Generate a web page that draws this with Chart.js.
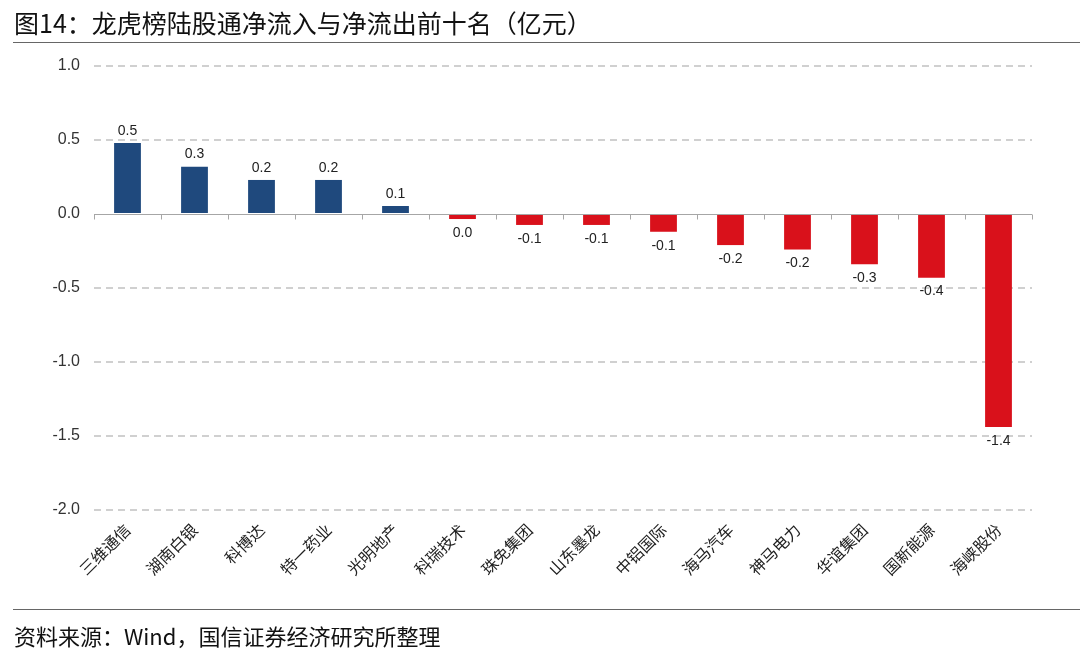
<!DOCTYPE html>
<html>
<head>
<meta charset="utf-8">
<script src="https://cdn.jsdelivr.net/npm/chart.js@4.4.0/dist/chart.umd.min.js"></script>
<style>
    html, body { margin: 0; padding: 0; background: #fff; }
    #wrap { position: relative; width: 1080px; height: 651px; overflow: hidden; }
    #chart { position: absolute; left: 0; top: 0; }
    .title {
        position: absolute; left: 14px; top: 4px;
        font-family: "Noto Sans CJK SC", sans-serif; font-size: 25px; color: #111;
    }
    .rule { position: absolute; left: 13px; right: 0; height: 1px; background: #666; }
    .source {
        position: absolute; left: 14px; top: 619px;
        font-family: "Noto Sans CJK SC", sans-serif; font-size: 22px; color: #111;
    }
</style>
</head>
<body>
<div id="wrap">
    <canvas id="chart" width="1080" height="651"></canvas>
    <div class="title">图14：龙虎榜陆股通净流入与净流出前十名（亿元）</div>
    <div class="rule" style="top:42px;"></div>
    <div class="rule" style="top:609px;"></div>
    <div class="source">资料来源：Wind，国信证券经济研究所整理</div>
</div>
<script>
// Chart data (亿元)
const categories = ['三维通信', '湖南白银', '科博达', '特一药业', '光明地产', '科瑞技术', '珠免集团',
    '山东墨龙', '中铝国际', '海马汽车', '神马电力', '华谊集团', '国新能源', '海峡股份'];
const netFlow = [0.48, 0.32, 0.23, 0.23, 0.054, -0.034, -0.074, -0.074, -0.12, -0.21, -0.24, -0.34, -0.43, -1.44];
const yTicks = [1.0, 0.5, 0.0, -0.5, -1.0, -1.5, -2.0];

const blue = '#1F497D';
const red = '#D9111B';

// zero axis line with small ticks at category boundaries
const zeroLine = {
    id: 'zeroLine',
    beforeDatasetsDraw(chart) {
        const { ctx, chartArea, scales } = chart;
        const y = Math.round(scales.y.getPixelForValue(0)) + 0.5;
        const step = (chartArea.right - chartArea.left) / categories.length;
        ctx.save();
        ctx.strokeStyle = '#a6a6a6';
        ctx.lineWidth = 1;
        ctx.beginPath();
        ctx.moveTo(chartArea.left, y);
        ctx.lineTo(chartArea.right, y);
        for (let i = 0; i <= categories.length; i++) {
            const x = Math.round(chartArea.left + i * step) + 0.5;
            ctx.moveTo(x, y);
            ctx.lineTo(x, y + 5);
        }
        ctx.stroke();
        ctx.restore();
    }
};

// value labels above / below bars
const barLabels = {
    id: 'barLabels',
    afterDatasetsDraw(chart) {
        const { ctx } = chart;
        const meta = chart.getDatasetMeta(0);
        ctx.save();
        ctx.font = '14px "Liberation Sans", Arial, sans-serif';
        ctx.fillStyle = '#222';
        ctx.textAlign = 'center';
        meta.data.forEach(function(bar, i) {
            const v = netFlow[i];
            let text = Math.abs(v) < 0.05 ? '0.0' : v.toFixed(1);
            if (v >= 0) {
                ctx.textBaseline = 'bottom';
                ctx.fillText(text, bar.x, bar.y - 5);
            } else {
                ctx.textBaseline = 'top';
                ctx.fillText(text, bar.x, bar.y + 7);
            }
        });
        ctx.restore();
    }
};

new Chart(document.getElementById('chart'), {
    type: 'bar',
    data: {
        labels: categories,
        datasets: [{
            data: netFlow,
            backgroundColor: netFlow.map(v => v >= 0 ? blue : red),
            borderWidth: 0,
            categoryPercentage: 1.0,
            barPercentage: 0.4
        }]
    },
    options: {
        responsive: false,
        animation: false,
        layout: { padding: { top: 66, right: 48, left: 0, bottom: 0 } },
        plugins: {
            legend: { display: false },
            tooltip: { enabled: false }
        },
        scales: {
            x: {
                grid: { display: false },
                border: { display: false },
                ticks: {
                    color: '#222',
                    font: { family: '"Noto Sans CJK SC", sans-serif', size: 16 },
                    minRotation: 45,
                    maxRotation: 45,
                    padding: 2
                },
                afterFit: function(scale) { scale.height = 141; }
            },
            y: {
                min: -2.0,
                max: 1.0,
                afterBuildTicks: function(scale) {
                    scale.ticks = yTicks.map(v => ({ value: v }));
                },
                grid: {
                    color: function(c) { return c.tick && c.tick.value === 0 ? 'rgba(0,0,0,0)' : '#d0d0d0'; },
                    lineWidth: 2,
                    drawTicks: false
                },
                border: { display: false, dash: [7, 5] },
                ticks: {
                    color: '#333',
                    font: { family: '"Liberation Sans", Arial, sans-serif', size: 16 },
                    padding: 14,
                    callback: function(value) { return Number(value).toFixed(1); }
                },
                afterFit: function(scale) { scale.width = 94; }
            }
        }
    },
    plugins: [zeroLine, barLabels]
});
</script>
</body>
</html>
